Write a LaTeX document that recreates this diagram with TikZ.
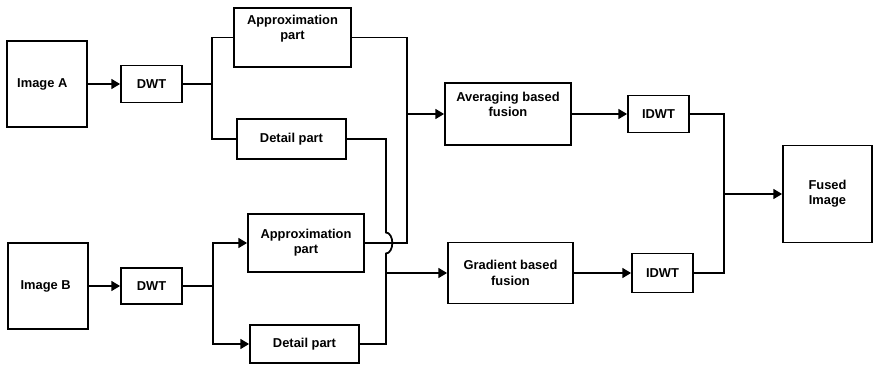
\documentclass[tikz,border=0pt]{standalone}
\usepackage{fontspec}
\setmainfont{Liberation Sans}
\usetikzlibrary{arrows.meta}

\begin{document}
\begin{tikzpicture}[x=0.03cm, y=-0.03cm, >={Triangle[length=7.5pt,width=8.5pt]}, line width=1.5pt, line join=miter,
    blk/.style={draw, rectangle, inner sep=0pt, align=center, font=\fontsize{11}{13}\selectfont\bfseries}]

    \useasboundingbox (0,0) rectangle (873,364);

    % =================================================================
    % PART 1: SOURCE IMAGES AND DWT
    % =================================================================
    \node[blk, minimum width=2.4cm, minimum height=2.58cm] (imgA) at (47,84) {Image A\hspace{8pt}};
    \node[blk, minimum width=1.83cm, minimum height=1.11cm] (dwtA) at (151.5,84) {DWT};
    \node[blk, minimum width=2.4cm, minimum height=2.58cm] (imgB) at (48,286) {Image B\hspace{4pt}};
    \node[blk, minimum width=1.83cm, minimum height=1.08cm] (dwtB) at (151.5,286) {DWT};

    % Coefficient parts
    \node[blk, minimum width=3.51cm, minimum height=1.77cm] (apxA) at (292.5,37.5) {Approximation\\part\\[4pt]};
    \node[blk, minimum width=3.27cm, minimum height=1.2cm] (detA) at (291.5,139) {Detail part};
    \node[blk, minimum width=3.48cm, minimum height=1.74cm] (apxB) at (306,243) {Approximation\\part};
    \node[blk, minimum width=3.27cm, minimum height=1.14cm] (detB) at (304.5,344) {Detail part};

    % =================================================================
    % PART 2: FUSION, IDWT AND RESULT
    % =================================================================
    \node[blk, minimum width=3.78cm, minimum height=1.86cm] (avg) at (508,114) {Averaging based\hspace{8pt}\\fusion\\[4pt]};
    \node[blk, minimum width=3.75cm, minimum height=1.83cm] (grad) at (510.5,273) {Gradient based\\fusion};
    \node[blk, minimum width=1.83cm, minimum height=1.11cm] (idwtA) at (658.5,114) {IDWT};
    \node[blk, minimum width=1.83cm, minimum height=1.17cm] (idwtB) at (662.5,273) {IDWT};
    \node[blk, minimum width=2.67cm, minimum height=2.91cm] (fused) at (827.5,194) {Fused\\Image};

    % Branch and junction points
    \coordinate (sA) at (212,84);
    \coordinate (sB) at (213,286);
    \coordinate (jA) at (407,114);
    \coordinate (jB) at (386,273);
    \coordinate (jC) at (724,194);

    % =================================================================
    % PART 3: CONNECTORS
    % =================================================================
    \draw[->] (imgA) -- (dwtA);
    \draw (dwtA.east) -- (sA);
    \draw (apxA.west) -| (sA) |- (detA.west);

    \draw[->] (imgB) -- (dwtB);
    \draw (dwtB.east) -- (sB);
    \draw[->] (sB) |- (apxB.west);
    \draw[->] (sB) |- (detB.west);

    % Approximation parts to averaging
    \draw (apxA.east) -| (jA);
    \draw (apxB.east) -| (jA);
    \draw[->] (jA) -- (avg.west);

    % Detail parts to gradient (with hop over the crossing)
    \draw (detA.east) -| (386,232.5)
        arc[start angle=90, end angle=-90, x radius=0.19cm, y radius=0.315cm] -- (jB);
    \draw (detB.east) -| (jB);
    \draw[->] (jB) -- (grad.west);

    % Inverse transform and merge
    \draw[->] (avg) -- (idwtA);
    \draw[->] (grad) -- (idwtB);
    \draw (idwtA.east) -| (jC);
    \draw (idwtB.east) -| (jC);
    \draw[->] (jC) -- (fused);

\end{tikzpicture}
\end{document}
